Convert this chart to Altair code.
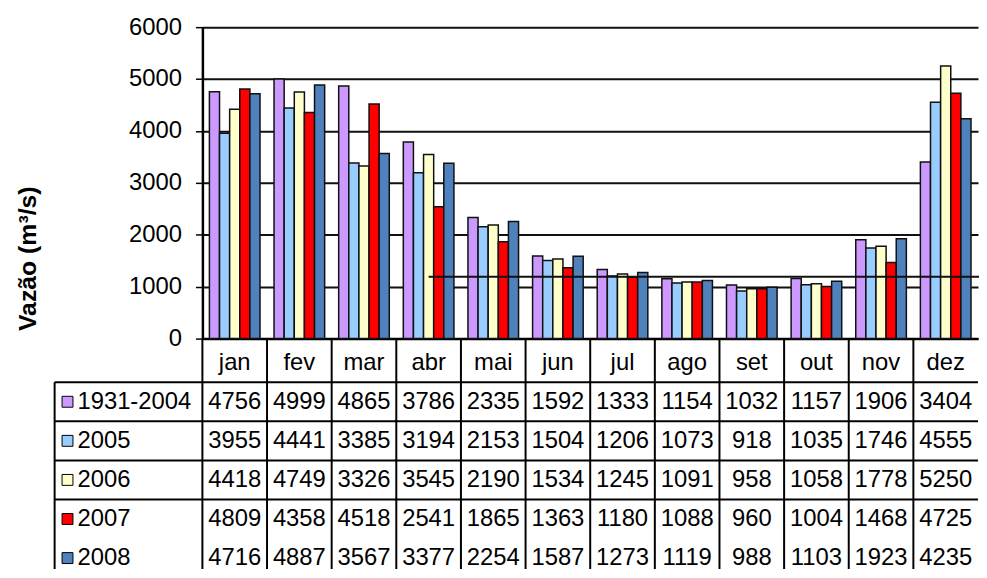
import altair as alt
import pandas as pd

months = ["jan", "fev", "mar", "abr", "mai", "jun", "jul", "ago", "set", "out", "nov", "dez"]
series = ["1931-2004", "2005", "2006", "2007", "2008"]
colors = ["#CC99FF", "#99CCFF", "#FFFFCC", "#FF0000", "#4F81BD"]
v_1931_2004 = [4756, 4999, 4865, 3786, 2335, 1592, 1333, 1154, 1032, 1157, 1906, 3404]
v_2005 = [3955, 4441, 3385, 3194, 2153, 1504, 1206, 1073, 918, 1035, 1746, 4555]
v_2006 = [4418, 4749, 3326, 3545, 2190, 1534, 1245, 1091, 958, 1058, 1778, 5250]
v_2007 = [4809, 4358, 4518, 2541, 1865, 1363, 1180, 1088, 960, 1004, 1468, 4725]
v_2008 = [4716, 4887, 3567, 3377, 2254, 1587, 1273, 1119, 988, 1103, 1923, 4235]
y_ticks = [0, 1000, 2000, 3000, 4000, 5000, 6000]
ref_value = 1190
ref_start = "abr"

FONT = "Liberation Sans"
FS = 24
all_vals = [v_1931_2004, v_2005, v_2006, v_2007, v_2008]
rows = []
for s, vals in zip(series, all_vals):
    for m, v in zip(months, vals):
        rows.append({"month": m, "series": s, "value": v})
df = pd.DataFrame(rows)
df_months = pd.DataFrame({"month": months})
df_hlines = pd.DataFrame({"series": series[:4]})
df_series = pd.DataFrame({"series": series})
df_ref = pd.DataFrame({"month": [ref_start], "value": [ref_value]})
df_one = pd.DataFrame({"a": [0]})

W, H = 782, 314
x_bar = alt.Scale(domain=months, paddingInner=0.217, paddingOuter=0.1085)
x_cells = alt.Scale(domain=months, paddingInner=0, paddingOuter=0)
off = alt.Scale(domain=series, paddingInner=0, paddingOuter=0)
y_val = alt.Scale(domain=[0, 6000], nice=False)
row = alt.Scale(domain=series, range=[358, 555], paddingInner=0, paddingOuter=0)
col = alt.Scale(domain=series, range=colors)

bars = alt.Chart(df).mark_bar(stroke="#111111", strokeWidth=1.5).encode(
    x=alt.X("month:N", scale=x_bar, sort=months, axis=alt.Axis(
        title=None, labelAngle=0, ticks=False, grid=False, labelFontSize=FS, labelFont=FONT,
        labelColor="black", labelPadding=24, labelBaseline="middle",
        domainColor="black", domainWidth=2.5)),
    xOffset=alt.XOffset("series:N", scale=off, sort=series),
    y=alt.Y("value:Q", scale=y_val, axis=alt.Axis(
        values=y_ticks, format="d", grid=True, gridColor="#111111", gridWidth=2,
        domainColor="black", domainWidth=2.5, tickColor="black", tickSize=7, tickWidth=1.5,
        labelFontSize=FS, labelFont=FONT, labelColor="black", labelPadding=14,
        title="Vazão (m³/s)", titleFontSize=25, titleFont=FONT, titleFontWeight="bold",
        titleColor="black", titleAngle=270, titleX=-176, titleY=233,
        titleAlign="center", titleBaseline="middle")),
    color=alt.Color("series:N", scale=col, legend=None),
)

vlines = alt.Chart(df_months).mark_rule(color="black", strokeWidth=2).encode(
    x=alt.X("month:N", scale=x_cells, sort=months, bandPosition=0, axis=None),
    y=alt.value(H),
    y2=alt.value(555),
)

hlines = alt.Chart(df_hlines).mark_rule(color="black", strokeWidth=2).encode(
    y=alt.Y("series:N", scale=row, bandPosition=0, axis=None),
    x=alt.value(-149),
    x2=alt.value(W),
)

border = alt.Chart(df_one).mark_rule(color="black", strokeWidth=2).encode(
    x=alt.value(-149),
    y=alt.value(358),
    y2=alt.value(555),
)

ref = alt.Chart(df_ref).mark_rule(color="#111111", strokeWidth=2).encode(
    x=alt.X("month:N", scale=x_bar, sort=months, axis=None),
    x2=alt.value(W + 1),
    y=alt.Y("value:Q", scale=y_val, axis=None),
)

cells = alt.Chart(df).mark_text(fontSize=FS, font=FONT, color="black", baseline="middle").encode(
    x=alt.X("month:N", scale=x_cells, sort=months, axis=None),
    y=alt.Y("series:N", scale=row, axis=None),
    text=alt.Text("value:Q", format="d"),
)

squares = alt.Chart(df_series).mark_square(size=121, stroke="black", strokeWidth=1, opacity=1).encode(
    x=alt.value(-136),
    y=alt.Y("series:N", scale=row, axis=None),
    color=alt.Color("series:N", scale=col, legend=None),
)

labels = alt.Chart(df_series).mark_text(fontSize=FS, font=FONT, color="black", align="left", baseline="middle").encode(
    x=alt.value(-126),
    y=alt.Y("series:N", scale=row, axis=None),
    text="series:N",
)

chart = alt.layer(bars, vlines, hlines, border, ref, cells, squares, labels).resolve_scale(
    x="independent", y="independent"
).properties(
    width=W, height=H,
    padding={"left": 196, "top": 17, "right": 1, "bottom": 230},
    autosize=alt.AutoSizeParams(type="none"),
).configure_view(stroke=None)

chart.save("out.html", embed_options={"renderer": "svg", "actions": False})
